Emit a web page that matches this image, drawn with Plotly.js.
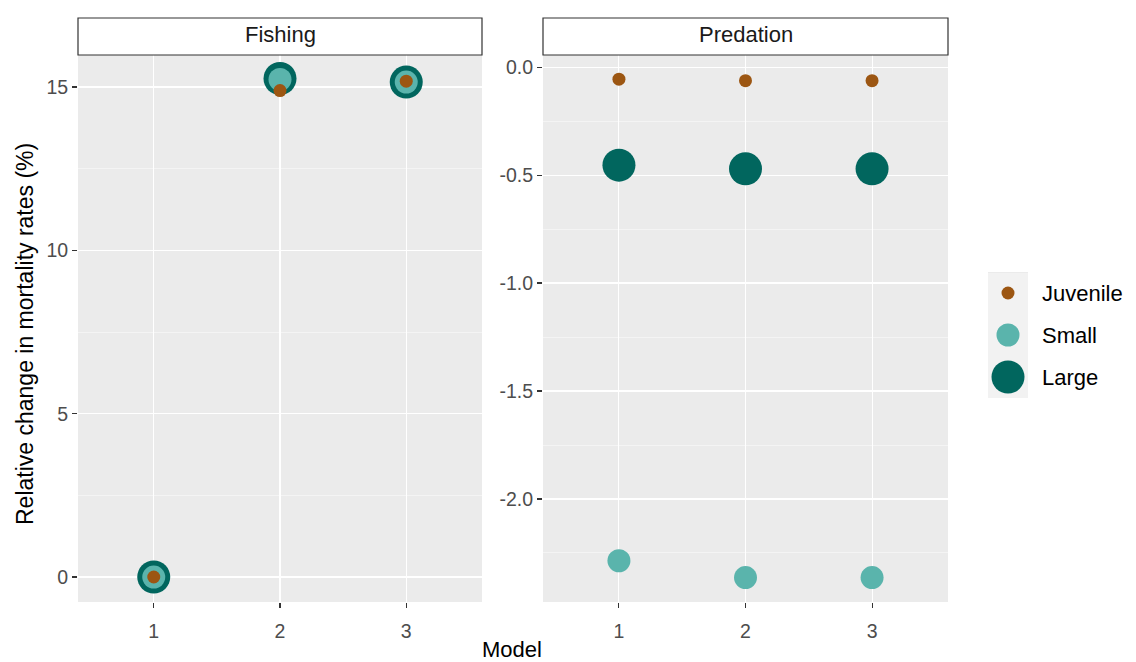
<!DOCTYPE html>
<html>
<head>
<meta charset="utf-8">
<script src="https://cdn.plot.ly/plotly-3.0.1.min.js"></script>
<style>html,body{margin:0;padding:0;background:#fff;}#chart{width:1136px;height:662px;}</style>
</head>
<body>
<div id="chart"></div>
<script>
// ---- data ----
const models = [1, 2, 3];
const sizeClasses = ["Juvenile", "Small", "Large"];
const fishingJuvenile = [0, 14.89, 15.18];
const fishingSmall = [0, 15.23, 15.15];
const fishingLarge = [0, 15.26, 15.15];
const predationJuvenile = [-0.056, -0.063, -0.063];
const predationSmall = [-2.286, -2.364, -2.364];
const predationLarge = [-0.454, -0.471, -0.471];
const panels = ["Fishing", "Predation"];
const xTickLabels = ["1", "2", "3"];
const fishingTickVals = [0, 5, 10, 15];
const fishingTickText = ["0", "5", "10", "15"];
const predTickVals = [-2.0, -1.5, -1.0, -0.5, 0.0];
const predTickText = ["-2.0", "-1.5", "-1.0", "-0.5", "0.0"];

// ---- styles ----
const colors = {Juvenile: "#9c5612", Small: "#5ab4ac", Large: "#01665e"};
const sizes = {Juvenile: 13, Small: 23, Large: 33};
const W = 1136, H = 662;
const px = v => v / W, py = v => 1 - v / H;
const font = "Liberation Sans, Arial, Helvetica, sans-serif";

const series = {
  Fishing: {Juvenile: fishingJuvenile, Small: fishingSmall, Large: fishingLarge},
  Predation: {Juvenile: predationJuvenile, Small: predationSmall, Large: predationLarge}
};

const traces = [];
panels.forEach((p, i) => {
  const ax = i === 0 ? "" : "2";
  ["Large", "Small", "Juvenile"].forEach(c => {
    traces.push({
      type: "scatter", mode: "markers", x: models, y: series[p][c],
      xaxis: "x" + ax, yaxis: "y" + ax, name: c, showlegend: false,
      marker: {color: colors[c], size: sizes[c], opacity: 1, line: {width: 0}},
      hoverinfo: "x+y+name"
    });
  });
});
// legend keys
traces.push({
  type: "scatter", mode: "markers", x: sizeClasses.map(() => 0.5), y: sizeClasses,
  xaxis: "x3", yaxis: "y3", showlegend: false, hoverinfo: "skip",
  marker: {color: sizeClasses.map(c => colors[c]), size: sizeClasses.map(c => sizes[c]), opacity: 1, line: {width: 0}}
});

const yDom = [py(602), py(55)];
const tickFont = {family: font, size: 19.5, color: "#4d4d4d"};
const xAxisBase = {
  range: [0.4, 3.6], tickvals: models, ticktext: xTickLabels, showgrid: true,
  gridcolor: "#ffffff", gridwidth: 1.1, zeroline: false, ticks: "outside", ticklen: 5,
  tickcolor: "#333333", tickwidth: 1.1, showline: false, ticklabelstandoff: 7,
  tickfont: tickFont, fixedrange: true
};
const yAxisBase = {
  showgrid: true, gridcolor: "#ffffff", gridwidth: 1.1, zeroline: false,
  ticks: "outside", ticklen: 5, tickcolor: "#333333", tickwidth: 1.1,
  tickfont: tickFont, showline: false, fixedrange: true
};

const layout = {
  width: W, height: H, margin: {l: 0, r: 0, t: 0, b: 0},
  paper_bgcolor: "#ffffff", plot_bgcolor: "#ebebeb", showlegend: false,
  xaxis: Object.assign({}, xAxisBase, {domain: [px(78), px(482)], anchor: "y"}),
  yaxis: Object.assign({}, yAxisBase, {domain: yDom, anchor: "x", range: [-0.765, 15.98],
    tickvals: fishingTickVals, ticktext: fishingTickText,
    minor: {dtick: 2.5, tick0: 0, showgrid: true, gridcolor: "#f6f6f6", gridwidth: 0.8, ticks: ""}}),
  xaxis2: Object.assign({}, xAxisBase, {domain: [px(543), px(948)], anchor: "y2"}),
  yaxis2: Object.assign({}, yAxisBase, {domain: yDom, anchor: "x2", range: [-2.477, 0.056],
    tickvals: predTickVals, ticktext: predTickText,
    minor: {dtick: 0.25, tick0: 0, showgrid: true, gridcolor: "#f6f6f6", gridwidth: 0.8, ticks: ""}}),
  xaxis3: {domain: [px(988), px(1028)], range: [0, 1], visible: false, fixedrange: true, anchor: "y3"},
  yaxis3: {domain: [py(398), py(272)], type: "category", range: [2.5, -0.5], visible: false, fixedrange: true, anchor: "x3"},
  shapes: [],
  annotations: []
};

// strips
const stripX = [[78, 482], [543, 948]];
panels.forEach((p, i) => {
  layout.shapes.push({type: "rect", xref: "paper", yref: "paper",
    x0: px(stripX[i][0]), x1: px(stripX[i][1]), y0: py(55), y1: py(18),
    fillcolor: "#ffffff", line: {color: "#333333", width: 1.2}});
  layout.annotations.push({xref: "paper", yref: "paper", x: px((stripX[i][0] + stripX[i][1]) / 2),
    y: py(34), text: p, showarrow: false, xanchor: "center", yanchor: "middle",
    font: {family: font, size: 22, color: "#1a1a1a"}});
});
// legend key backgrounds and labels
const keyBounds = [[273, 314], [314, 356], [356, 398]];
sizeClasses.forEach((c, i) => {
  layout.shapes.push({type: "rect", xref: "paper", yref: "paper", layer: "below",
    x0: px(988), x1: px(1028), y0: py(keyBounds[i][1]), y1: py(keyBounds[i][0]),
    fillcolor: "#f2f2f2", line: {width: 0}});
  layout.annotations.push({xref: "paper", yref: "y3", x: px(1040), y: c, text: c,
    showarrow: false, xanchor: "left", yanchor: "middle",
    font: {family: font, size: 22, color: "#000000"}});
});
// axis titles
layout.annotations.push({xref: "paper", yref: "paper", x: px(511.5), y: py(649), text: "Model",
  showarrow: false, xanchor: "center", yanchor: "middle", font: {family: font, size: 22, color: "#000000"}});
layout.annotations.push({xref: "paper", yref: "paper", x: px(25), y: py(334),
  text: "Relative change in mortality rates (%)", textangle: -90,
  showarrow: false, xanchor: "center", yanchor: "middle", font: {family: font, size: 23, color: "#000000"}});

Plotly.newPlot("chart", traces, layout, {staticPlot: true, displayModeBar: false});
</script>
</body>
</html>
